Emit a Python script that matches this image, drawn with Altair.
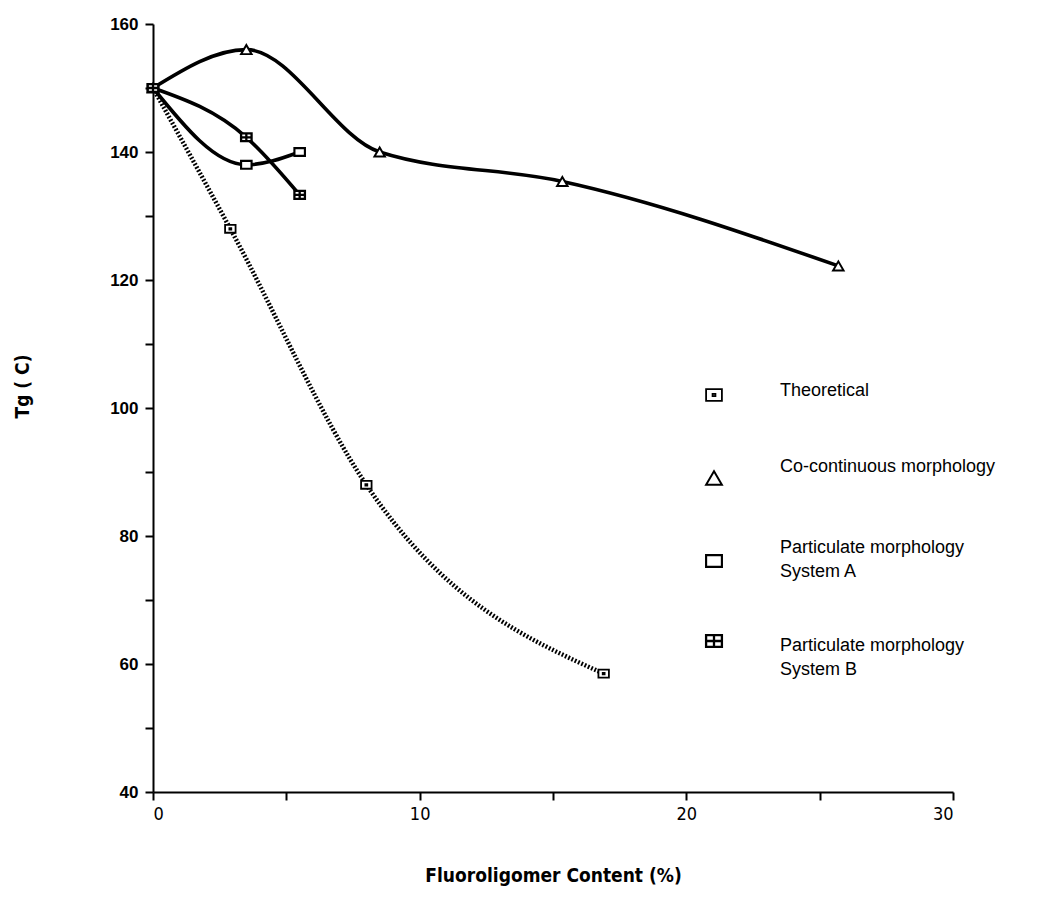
import altair as alt
import pandas as pd

# ---- data ----
series_names = ["Theoretical", "Co-continuous morphology",
                "Particulate morphology|System A", "Particulate morphology|System B"]

x_theo = [0, 2.9, 8.0, 16.9]
y_theo = [150, 128, 88, 58.5]

x_co = [0, 3.5, 8.5, 15.35, 25.7]
y_co = [150, 156, 140, 135.4, 122.2]

x_a = [0, 3.5, 5.5]
y_a = [150, 138, 140]

x_b = [0, 3.5, 5.5]
y_b = [150, 142.3, 133.3]

x_tick_values = [0, 5, 10, 15, 20, 25, 30]
y_tick_values = [40, 50, 60, 70, 80, 90, 100, 110, 120, 130, 140, 150, 160]

# ---- legend layout (pixel positions inside the plot area) ----
legend_symbol_x = 561
legend_text_x = 627
legend_symbol_y = [371, 454, 537, 617]
legend_text_y = [358, 434, 515, 613]

# ---- marker shapes (styles) ----
shape_theo = "M-1,-0.75H1V0.75H-1Z M-0.18,-0.14H0.18V0.14H-0.18Z"
shape_tri = "triangle-up"
shape_a = "M-1,-0.75H1V0.75H-1Z"
shape_b = "M-1,-0.75H1V0.75H-1Z M-1,0H1 M0,-0.75V0.75"

rows = []
for name, xs, ys in zip(series_names, [x_theo, x_co, x_a, x_b], [y_theo, y_co, y_a, y_b]):
    for i, (xv, yv) in enumerate(zip(xs, ys)):
        rows.append({"series": name, "x": xv, "y": yv, "order": i})
df = pd.DataFrame(rows)

leg = pd.DataFrame({"series": series_names,
                    "sx": [legend_symbol_x] * 4, "sy": legend_symbol_y,
                    "tx": [legend_text_x] * 4, "ty": legend_text_y})

shape_scale = alt.Scale(domain=series_names, range=[shape_theo, shape_tri, shape_a, shape_b])
sw_scale_leg = alt.Scale(domain=series_names, range=[2, 2.6, 3.8, 3.0])
sw_scale_pts = alt.Scale(domain=series_names, range=[1.8, 2.3, 3.8, 3.2])

xs_ = alt.Scale(domain=[0, 30], nice=False)
ys_ = alt.Scale(domain=[40, 160], nice=False, zero=False)

x_enc = alt.X("x:Q", scale=xs_,
              axis=alt.Axis(title="Fluoroligomer Content (%)", values=x_tick_values,
                            labelExpr="datum.value % 10 == 0 ? datum.label : ''",
                            labelPadding=5, titleY=83, titleBaseline="middle"))
y_enc = alt.Y("y:Q", scale=ys_,
              axis=alt.Axis(title="Tg ( C)", values=y_tick_values,
                            labelExpr="datum.value % 20 == 0 ? datum.label : ''",
                            labelPadding=7, titleX=-131, titleY=362,
                            titleAlign="center", titleBaseline="middle"))

base = alt.Chart(df)

lines_theo = base.transform_filter(alt.datum.series == "Theoretical").mark_line(
    color="black", strokeWidth=4.5, interpolate="monotone", strokeDash=[1.8, 1.8]
).encode(x=x_enc, y=y_enc, order="order:Q")

lines_solid = base.transform_filter(alt.datum.series != "Theoretical").mark_line(
    color="black", strokeWidth=3.6, interpolate="monotone"
).encode(x=x_enc, y=y_enc, detail="series:N", order="order:Q")

points = base.mark_point(size=110, color="black", opacity=1, filled=False, fill="white",
                         fillOpacity=1).encode(
    x=x_enc, y=y_enc,
    shape=alt.Shape("series:N", scale=shape_scale, legend=None),
    strokeWidth=alt.StrokeWidth("series:N", scale=sw_scale_pts, legend=None),
)

# ---- hand-drawn legend ----
leg_base = alt.Chart(leg)
leg_sym = leg_base.mark_point(size=250, color="black", opacity=1, filled=False, fill="white",
                              fillOpacity=1).encode(
    x=alt.X("sx:Q", scale=None), y=alt.Y("sy:Q", scale=None),
    shape=alt.Shape("series:N", scale=shape_scale, legend=None),
    strokeWidth=alt.StrokeWidth("series:N", scale=sw_scale_leg, legend=None),
)
leg_txt = leg_base.mark_text(align="left", baseline="top", font="Liberation Sans", fontSize=18,
                             lineBreak="|", lineHeight=24, color="black").encode(
    x=alt.X("tx:Q", scale=None), y=alt.Y("ty:Q", scale=None), text="series:N",
)

chart = alt.layer(lines_theo, lines_solid, points, leg_sym, leg_txt).properties(
    width=800, height=768,
    autosize=alt.AutoSizeParams(type="none"),
    padding={"left": 153, "top": 24, "right": 84, "bottom": 128},
    background="white",
).configure_view(stroke=None).configure_axis(
    domainColor="black", domainWidth=2, tickColor="black", tickWidth=2, tickSize=8,
    grid=False, labelColor="black",
    titleColor="black", titleFont="DejaVu Sans Condensed", titleFontSize=19, titleFontWeight="bold",
).configure_axisX(
    labelFont="DejaVu Sans Condensed", labelFontSize=18
).configure_axisY(
    labelFont="Liberation Sans", labelFontSize=17, labelFontWeight="bold"
)

chart.save("out.html", embed_options={"renderer": "svg", "actions": False})
